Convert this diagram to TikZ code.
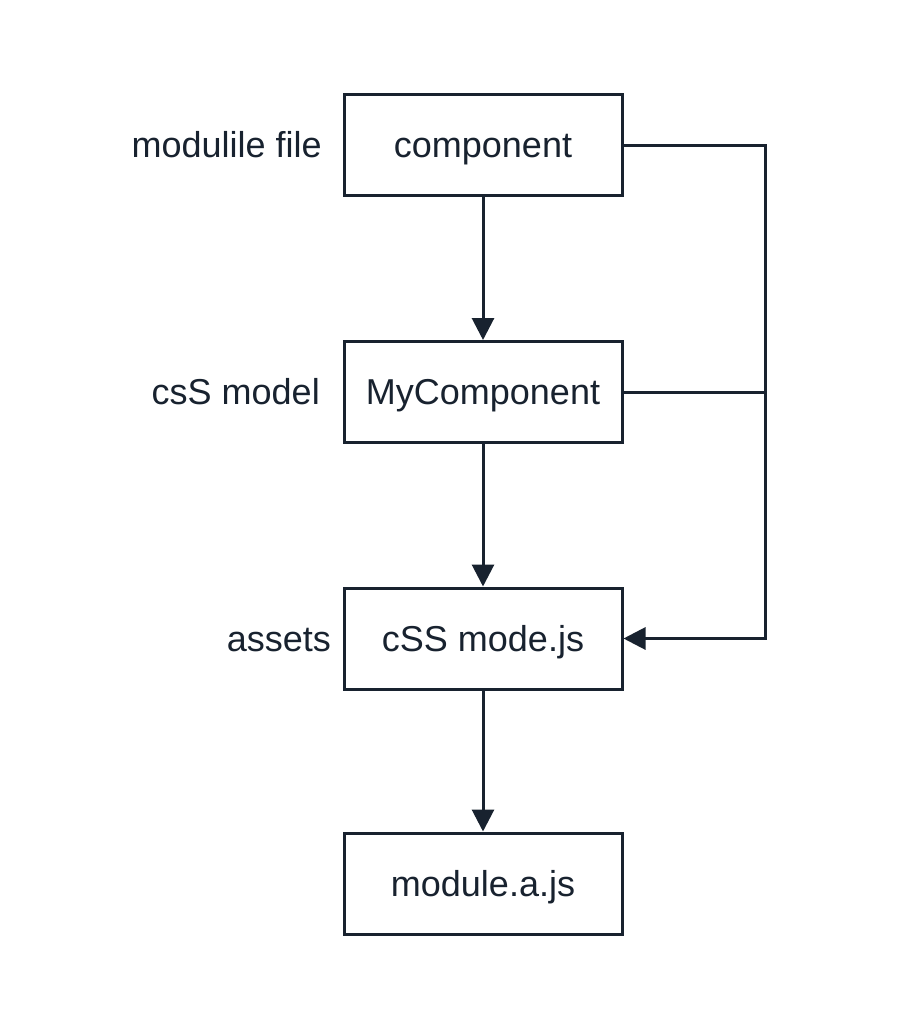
\documentclass[tikz,border=0pt]{standalone}
\usepackage{fontspec}
\setmainfont{Liberation Sans}
\usetikzlibrary{arrows.meta}
\definecolor{ink}{HTML}{18222F}
\begin{document}
\begin{tikzpicture}[x=1pt,y=-1pt,
  box/.style={draw=ink,line width=3pt,minimum width=278pt,minimum height=101pt,inner sep=0pt,font=\fontsize{36}{40}\selectfont,text=ink,text height=25pt,text depth=0pt},
  lbl/.style={anchor=east,font=\fontsize{36}{40}\selectfont,text=ink,inner sep=0pt,text height=25pt,text depth=0pt},
  conn/.style={draw=ink,line width=3pt},
  arr/.style={conn,-{Triangle[length=22pt,width=22pt]}}]
\fill[white] (0,0) rectangle (898,1024);
\useasboundingbox (0,0) rectangle (898,1024);
\node[box] (b1) at (483,145.5) {component};
\node[box] (b2) at (483,392) {MyComponent};
\node[box] (b3) at (483,638.5) {cSS mode.js};
\node[box] (b4) at (483,883.5) {module.a.js};
\node[lbl] (l1) at (322,145.5) {modulile file};
\node[lbl] (l2) at (320,392) {csS model};
\node[lbl] (l3) at (331,638.5) {assets};
\coordinate (c2) at (765,392);
\draw[arr] (b1) -- (b2);
\draw[arr] (b2) -- (b3);
\draw[arr] (b3) -- (b4);
\draw[conn] (b1.east) -| (c2);
\draw[conn] (b2.east) -- (c2);
\draw[arr] (c2) |- (b3.east);
\end{tikzpicture}
\end{document}
